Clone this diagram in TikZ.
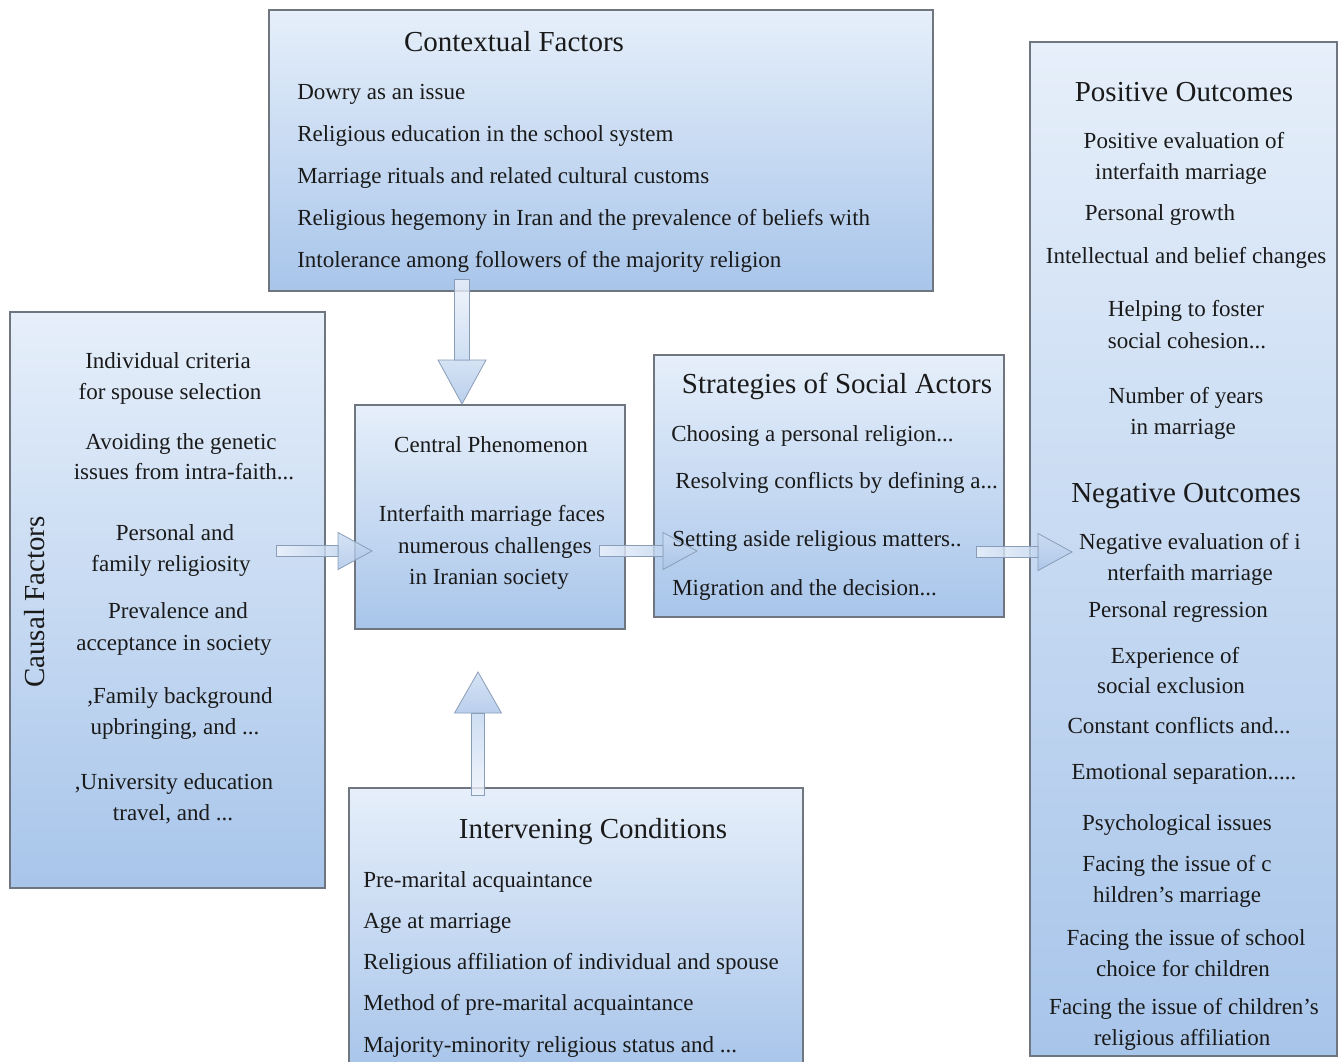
\documentclass[tikz,border=0pt]{standalone}
\usepackage{fontspec}
\setmainfont{Liberation Serif}
\usetikzlibrary{calc}
\definecolor{boxtop}{HTML}{E6EFFA}
\definecolor{boxbot}{HTML}{A8C5EA}
\definecolor{boxline}{HTML}{70767F}
\definecolor{txtc}{HTML}{1A1A1A}
\definecolor{arrline}{HTML}{8A9DB8}
\definecolor{shaftA}{HTML}{EEF3FB}
\definecolor{shaftB}{HTML}{C2D6F0}
\definecolor{headA}{HTML}{CBDCF2}
\definecolor{headB}{HTML}{A9C4E8}
\newcommand\hblock[2]{%
  \path[shaft, left color=shaftA, right color=shaftB] let \p1=(#1), \p2=(#2) in (\x1,\y1-4.1pt) rectangle (\x2-25.5pt,\y1+4.1pt);
  \path[head, top color=headA, bottom color=headB] let \p1=(#1), \p2=(#2) in (\x2-25.5pt,\y1-13.9pt) -- (\x2,\y1) -- (\x2-25.5pt,\y1+13.9pt) -- cycle;}
\begin{document}
\begin{tikzpicture}[x=0.75pt,y=-0.75pt,
  panel/.style={draw=boxline, line width=0.8pt, top color=boxtop, bottom color=boxbot, inner sep=0pt, outer sep=0pt, anchor=north west},
  body/.style={font=\fontsize{17.25}{20}\selectfont, text=txtc, inner sep=0pt},
  ttl/.style={font=\fontsize{21.75}{26}\selectfont, text=txtc, inner sep=0pt},
  shaft/.style={draw=arrline, line width=0.6pt, fill opacity=0.8},
  head/.style={draw=arrline, line width=0.6pt, fill opacity=0.8}]
\fill[white] (0,0) rectangle (1339,1061);
\useasboundingbox (0,0) rectangle (1339,1061);
% panels
\node[panel, minimum width=498pt, minimum height=210.75pt] (ctx) at (269,10) {};
\node[panel, minimum width=236.25pt, minimum height=432pt] (cau) at (10,312) {};
\node[panel, minimum width=202.5pt, minimum height=168pt] (cen) at (355,405) {};
\node[panel, minimum width=262.5pt, minimum height=196.5pt] (str) at (654,355) {};
\node[panel, minimum width=230.25pt, minimum height=760.5pt] (out) at (1030,42) {};
\node[panel, minimum width=340.5pt, minimum height=210pt] (int) at (349,788) {};
% connector end points
\coordinate (a1s) at ($(cau.north east)+(-49,239)$);
\coordinate (a1t) at ($(cen.north west)+(17,146)$);
\coordinate (a2s) at ($(cen.north east)+(-26,146)$);
\coordinate (a2t) at ($(str.north west)+(43,196)$);
\coordinate (a3s) at ($(str.north east)+(-28,197)$);
\coordinate (a3t) at ($(out.north west)+(42,510)$);
\coordinate (a4s) at ($(ctx.south west)+(193,-12)$);
\coordinate (a4t) at ($(cen.north west)+(107,-1)$);
\coordinate (a5s) at ($(int.north west)+(129,7)$);
\coordinate (a5t) at ($(cen.south west)+(123,43)$);
% horizontal block arrows
\hblock{a1s}{a1t}
\hblock{a2s}{a2t}
\hblock{a3s}{a3t}
% down arrow (contextual -> central)
\path[shaft, top color=shaftA, bottom color=shaftB] let \p1=(a4s), \p2=(a4t) in (\x1-5.6pt,\y1) rectangle (\x1+5.6pt,\y2+33pt);
\path[head, top color=headA, bottom color=headB] let \p1=(a4s), \p2=(a4t) in (\x2-18pt,\y2+33pt) -- (\x2,\y2) -- (\x2+18pt,\y2+33pt) -- cycle;
% up arrow (intervening -> central)
\path[shaft, top color=shaftB, bottom color=shaftA] let \p1=(a5s), \p2=(a5t) in (\x1-4.9pt,\y1) rectangle (\x1+4.9pt,\y2-30.75pt);
\path[head, top color=headA, bottom color=headB] let \p1=(a5s), \p2=(a5t) in (\x2-17.6pt,\y2-30.75pt) -- (\x2,\y2) -- (\x2+17.6pt,\y2-30.75pt) -- cycle;
% contextual factors
\node[ttl, anchor=base] (ctxT) at (514,51) {Contextual Factors};
\node[body, anchor=base west] (ctx1) at (297,99) {Dowry as an issue};
\node[body, anchor=base west] (ctx2) at (297,141) {Religious education in the school system};
\node[body, anchor=base west] (ctx3) at (297,183) {Marriage rituals and related cultural customs};
\node[body, anchor=base west] (ctx4) at (297,225) {Religious hegemony in Iran and the prevalence of beliefs with};
\node[body, anchor=base west] (ctx5) at (297,267) {Intolerance among followers of the majority religion};
% causal factors
\node[ttl, rotate=90] (cauT) at (35,602) {Causal Factors};
\node[body, anchor=base] (cau1) at (168,368) {Individual criteria};
\node[body, anchor=base] (cau2) at (170,399) {for spouse selection};
\node[body, anchor=base] (cau3) at (181,449) {Avoiding the genetic};
\node[body, anchor=base] (cau4) at (184,479) {issues from intra-faith...};
\node[body, anchor=base] (cau5) at (175,540) {Personal and};
\node[body, anchor=base] (cau6) at (171,571) {family religiosity};
\node[body, anchor=base] (cau7) at (178,618) {Prevalence and};
\node[body, anchor=base] (cau8) at (174,650) {acceptance in society};
\node[body, anchor=base] (cau9) at (180,703) {,Family background};
\node[body, anchor=base] (cau10) at (175,734) {upbringing, and ...};
\node[body, anchor=base] (cau11) at (174,789) {,University education};
\node[body, anchor=base] (cau12) at (173,820) {travel, and ...};
% central phenomenon
\node[body, anchor=base] (cenT) at (491,452) {Central Phenomenon};
\node[body, anchor=base] (cen1) at (492,521) {Interfaith marriage faces};
\node[body, anchor=base] (cen2) at (495,553) {numerous challenges};
\node[body, anchor=base] (cen3) at (489,584) {in Iranian society};
% strategies
\node[ttl, anchor=base] (strT) at (837,393) {Strategies of Social Actors};
\node[body, anchor=base west] (str1) at (671,441) {Choosing a personal religion...};
\node[body, anchor=base west] (str2) at (675,488) {Resolving conflicts by defining a...};
\node[body, anchor=base west] (str3) at (672,546) {Setting aside religious matters..};
\node[body, anchor=base west] (str4) at (672,595) {Migration and the decision...};
% outcomes
\node[ttl, anchor=base] (posT) at (1184,101) {Positive Outcomes};
\node[body, anchor=base] (pos1) at (1184,148) {Positive evaluation of};
\node[body, anchor=base] (pos2) at (1181,179) {interfaith marriage};
\node[body, anchor=base] (pos3) at (1160,220) {Personal growth};
\node[body, anchor=base] (pos4) at (1186,263) {Intellectual and belief changes};
\node[body, anchor=base] (pos5) at (1186,316) {Helping to foster};
\node[body, anchor=base] (pos6) at (1187,348) {social cohesion...};
\node[body, anchor=base] (pos7) at (1186,403) {Number of years};
\node[body, anchor=base] (pos8) at (1183,434) {in marriage};
\node[ttl, anchor=base] (negT) at (1186,502) {Negative Outcomes};
\node[body, anchor=base] (neg1) at (1190,549) {Negative evaluation of i};
\node[body, anchor=base] (neg2) at (1190,580) {nterfaith marriage};
\node[body, anchor=base] (neg3) at (1178,617) {Personal regression};
\node[body, anchor=base] (neg4) at (1175,663) {Experience of};
\node[body, anchor=base] (neg5) at (1171,693) {social exclusion};
\node[body, anchor=base] (neg6) at (1179,733) {Constant conflicts and...};
\node[body, anchor=base] (neg7) at (1184,779) {Emotional separation.....};
\node[body, anchor=base] (neg8) at (1177,830) {Psychological issues};
\node[body, anchor=base] (neg9) at (1177,871) {Facing the issue of c};
\node[body, anchor=base] (neg10) at (1177,902) {hildren’s marriage};
\node[body, anchor=base] (neg11) at (1186,945) {Facing the issue of school};
\node[body, anchor=base] (neg12) at (1183,976) {choice for children};
\node[body, anchor=base] (neg13) at (1184,1014) {Facing the issue of children’s};
\node[body, anchor=base] (neg14) at (1182,1045) {religious affiliation};
% intervening
\node[ttl, anchor=base] (intT) at (593,838) {Intervening Conditions};
\node[body, anchor=base west] (int1) at (363,887) {Pre-marital acquaintance};
\node[body, anchor=base west] (int2) at (363,928) {Age at marriage};
\node[body, anchor=base west] (int3) at (363,969) {Religious affiliation of individual and spouse};
\node[body, anchor=base west] (int4) at (363,1010) {Method of pre-marital acquaintance};
\node[body, anchor=base west] (int5) at (363,1052) {Majority-minority religious status and ...};
\end{tikzpicture}
\end{document}
